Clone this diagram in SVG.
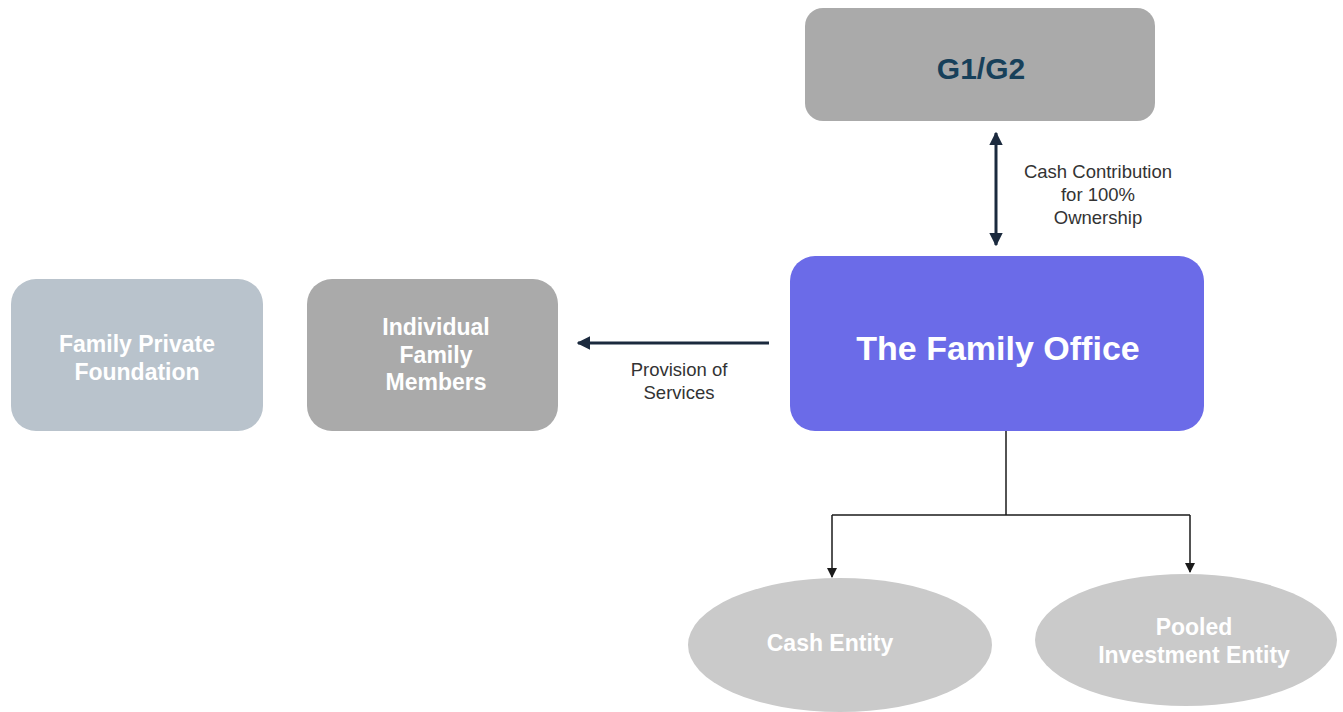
<svg xmlns="http://www.w3.org/2000/svg" width="1343" height="712" viewBox="0 0 1343 712">
<style>
.lbl{font-family:"Liberation Sans",Arial,sans-serif;font-size:18.5px;fill:#333;text-anchor:middle}
.wt{font-family:"Liberation Sans",Arial,sans-serif;font-weight:bold;fill:#fff;text-anchor:middle}
.nav{stroke:#1b2a3e;stroke-width:3;fill:none}
.thin{stroke:#1a1a1a;stroke-width:1.5;fill:none}
</style>
<defs>
<marker id="ah" viewBox="0 0 10 10" refX="9" refY="5" markerWidth="4.5" markerHeight="4.5" orient="auto-start-reverse" markerUnits="strokeWidth"><path d="M0,0L10,5L0,10z" fill="#1b2a3e"/></marker>
<marker id="ah2" viewBox="0 0 10 10" refX="9" refY="5" markerWidth="7" markerHeight="7" orient="auto" markerUnits="strokeWidth"><path d="M0,0L10,5L0,10z" fill="#1a1a1a"/></marker>
</defs>
<g id="connectors">
<line class="nav" x1="996" y1="133" x2="996" y2="245" marker-start="url(#ah)" marker-end="url(#ah)"/>
<line class="nav" x1="769" y1="343" x2="578" y2="343" marker-end="url(#ah)"/>
<polyline class="thin" points="1006,431 1006,515"/>
<polyline class="thin" points="832,515 1190,515"/>
<line class="thin" x1="832" y1="515" x2="832" y2="577" marker-end="url(#ah2)"/>
<line class="thin" x1="1190" y1="515" x2="1190" y2="572" marker-end="url(#ah2)"/>
<text class="lbl" x="1098" y="178">Cash Contribution</text>
<text class="lbl" x="1098" y="201">for 100%</text>
<text class="lbl" x="1098" y="224">Ownership</text>
<text class="lbl" x="679" y="376">Provision of</text>
<text class="lbl" x="679" y="399">Services</text>
</g>
<g id="g1g2">
<rect x="805" y="8" width="350" height="113" rx="18" fill="#aaaaaa"/>
<text x="981" y="79" font-family="Liberation Sans,Arial,sans-serif" font-weight="bold" font-size="30" fill="#17405a" text-anchor="middle">G1/G2</text>
</g>
<g id="family-office">
<rect x="790" y="256" width="414" height="175" rx="25" fill="#6b6be8"/>
<text class="wt" x="998" y="360" font-size="34">The Family Office</text>
</g>
<g id="individual-family-members">
<rect x="307" y="279" width="251" height="152" rx="25" fill="#aaaaaa"/>
<text class="wt" x="436" y="335" font-size="23">Individual</text>
<text class="wt" x="436" y="363" font-size="23">Family</text>
<text class="wt" x="436" y="390" font-size="23">Members</text>
</g>
<g id="family-private-foundation">
<rect x="11" y="279" width="252" height="152" rx="25" fill="#b9c3cc"/>
<text class="wt" x="137" y="352" font-size="23">Family Private</text>
<text class="wt" x="137" y="380" font-size="23">Foundation</text>
</g>
<g id="cash-entity">
<ellipse cx="840" cy="645" rx="152" ry="67" fill="#cacaca"/>
<text class="wt" x="830" y="651" font-size="23">Cash Entity</text>
</g>
<g id="pooled-investment-entity">
<ellipse cx="1186" cy="640" rx="151" ry="66" fill="#cacaca"/>
<text class="wt" x="1194" y="635" font-size="23">Pooled</text>
<text class="wt" x="1194" y="663" font-size="23">Investment Entity</text>
</g>
</svg>
